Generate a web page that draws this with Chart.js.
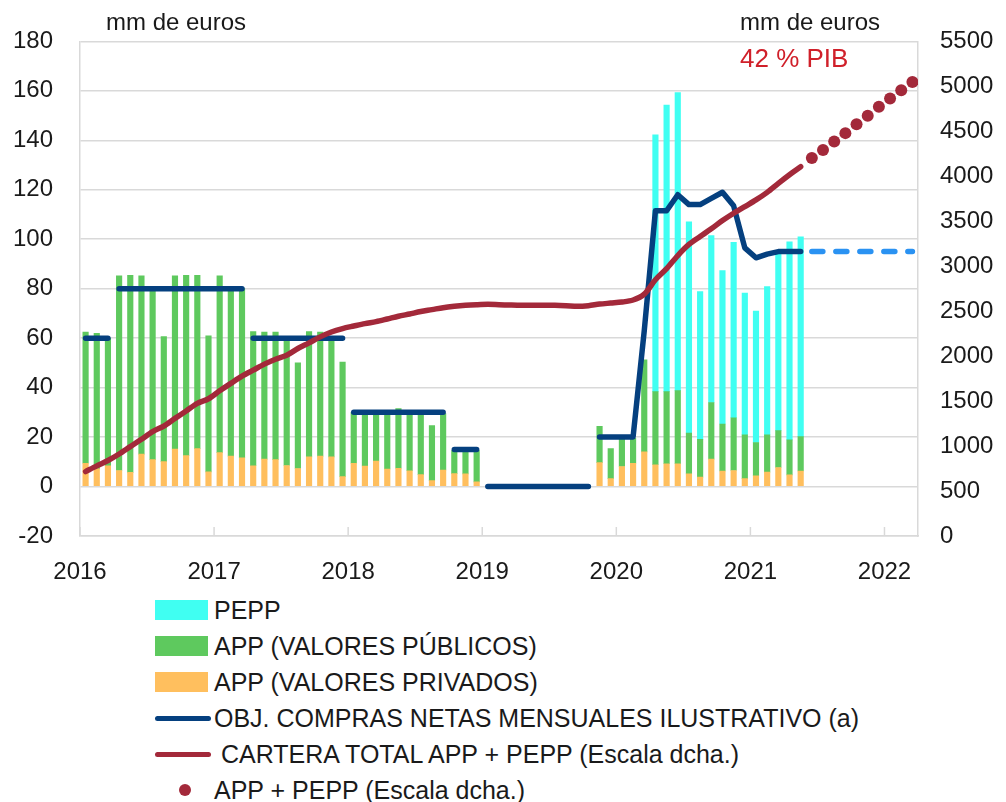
<!DOCTYPE html>
<html lang="es">
<head>
<meta charset="utf-8">
<title>APP + PEPP</title>
<script src="https://cdn.jsdelivr.net/npm/chart.js@4.4.1/dist/chart.umd.min.js"></script>
<style>
  body { margin: 0; background: #fff; font-family: "Liberation Sans", Arial, sans-serif; color: #1a1a1a; }
  #wrap { position: relative; width: 1006px; height: 802px; overflow: hidden; }
  #chartBox { position: absolute; left: 0; top: 0; width: 1006px; height: 590px; }
  .note { position: absolute; font-size: 24px; line-height: 24px; white-space: nowrap; }
  #legend { position: absolute; left: 155px; top: 592px; font-size: 25px; }
  .item { display: flex; align-items: center; height: 36px; white-space: pre; }
  .mark { position: relative; width: 53px; height: 20px; margin-right: 6px; flex: none; }
</style>
</head>
<body>
<div id="wrap">
  <div id="chartBox"><canvas id="grafico"></canvas></div>
  <div class="note" style="left:106px; top:10px;">mm de euros</div>
  <div class="note" style="left:740px; top:10px;">mm de euros</div>
  <div class="note" style="left:740px; top:46px; font-size:26px; color:#d0202a;">42 % PIB</div>
  <div id="legend"></div>
</div>
<script>
// eje temporal: meses desde enero de 2016 hasta marzo de 2022
const anioInicio = 2016;
const anios = ['2016', '2017', '2018', '2019', '2020', '2021', '2022'];

// compras netas mensuales (mm de euros), desde 2016-01 (null = sin compras)
const appPrivados = [
  9.4, 7.2, 8.4, 6.5, 5.7, 13.1, 10.9, 10.1, 15.1, 12.5, 15.3, 5.9,
  13.7, 12.3, 11.6, 8.4, 11.1, 10.9, 8.5, 7.3, 12.0, 12.3, 12.0, 4.0,
  9.4, 8.3, 10.3, 7.1, 7.4, 6.4, 4.8, 2.4, 6.7, 5.2, 5.1, 1.9,
  null, null, null, null, null, null, null, null, null, null, 9.7, 3.2,
  8.1, 9.4, 14.0, 8.8, 9.2, 9.2, 5.1, 3.8, 11.1, 6.3, 6.5, 3.2,
  4.3, 5.8, 7.7, 4.7, 6.3
];
const appPublicos = [
  53.1, 54.8, 51.6, 78.7, 79.7, 72.1, 69.1, 50.5, 70.1, 72.9, 70.1, 55.0,
  71.5, 67.7, 68.4, 54.3, 51.4, 51.6, 51.5, 42.7, 50.7, 50.2, 48.0, 46.3,
  20.6, 21.2, 19.2, 22.4, 24.1, 23.1, 24.2, 22.3, 22.8, 9.3, 8.9, 12.6,
  null, null, null, null, null, null, null, null, null, null, 14.6, 12.2,
  11.0, 10.1, 37.2, 29.6, 29.2, 29.6, 16.5, 15.3, 22.9, 19.0, 21.3, 17.7,
  13.5, 15.1, 14.9, 14.2, 13.9
];
// PEPP desde 2020-04
const pepp = [103.8, 115.9, 120.5, 85.4, 59.7, 67.5, 62.0, 70.9, 57.3, 53.2, 60.0, 72.4, 80.1, 80.8];

// objetivo de compras netas: tramos [desde, hasta, valor]
const objTramos = [
  ['2016-01', '2016-03', 60],
  ['2016-04', '2017-03', 80],
  ['2017-04', '2017-12', 60],
  ['2018-01', '2018-09', 30],
  ['2018-10', '2018-12', 15],
  ['2019-01', '2019-10', 0]
];
// objetivo mensual desde 2019-11
const objMensual = [20, 20, 20, 20, 63, 111.5, 111.5, 118, 114, 114, 116.5, 119, 113.5, 96.5, 92.5, 94, 95, 95, 95];
// proyección del objetivo
const objProyeccion = ['2021-06', '2022-03', 95];

// cartera total APP + PEPP (escala dcha.), desde 2016-01
const cartera = [
  716, 780, 839, 912, 994, 1075, 1160, 1223, 1308, 1390, 1475, 1526,
  1614, 1697, 1777, 1844, 1911, 1966, 2010, 2085, 2148, 2214, 2269, 2307,
  2335, 2362, 2384, 2413, 2443, 2469, 2496, 2517, 2539, 2554, 2565, 2572,
  2576, 2572, 2568, 2565, 2565, 2565, 2565, 2561, 2554, 2561, 2579, 2590,
  2601, 2624, 2690, 2850, 2972, 3119, 3242, 3330, 3416, 3508, 3589, 3663,
  3737, 3821, 3921, 4017, 4107
];
// APP + PEPP proyectado, desde 2021-06
const carteraProy = [4203, 4292, 4387, 4480, 4580, 4672, 4772, 4864, 4957, 5049];

const colPepp = '#40fff2';
const colPublicos = '#5ec95e';
const colPrivados = '#ffbf5e';
const colObj = '#05407f';
const colProy = '#2a92f2';
const colCartera = '#a3293a';
const colGrid = '#d9d9d9';

function mesIndex(s) {
  const [a, m] = s.split('-').map(Number);
  return (a - anioInicio) * 12 + (m - 1);
}
function serie(desde, valores) {
  const i0 = mesIndex(desde);
  return valores.map((v, i) => ({ x: i0 + i + 0.5, y: v }));
}

const objPuntos = [];
objTramos.forEach(([desde, hasta, v]) => {
  objPuntos.push({ x: mesIndex(desde) + 0.5, y: v });
  objPuntos.push({ x: mesIndex(hasta) + 0.5, y: v });
  objPuntos.push({ x: mesIndex(hasta) + 0.8, y: null });
});
objPuntos.push(...serie('2019-11', objMensual));

const proyPuntos = [
  { x: mesIndex(objProyeccion[0]) + 0.5, y: objProyeccion[2] },
  { x: mesIndex(objProyeccion[1]) + 0.5, y: objProyeccion[2] }
];

Chart.defaults.font.family = '"Liberation Sans", Arial, sans-serif';
Chart.defaults.font.size = 24;
Chart.defaults.color = '#1a1a1a';

// pequeñas marcas de año hacia dentro del eje x
const marcasX = {
  id: 'marcasX',
  beforeDatasetsDraw(chart) {
    const { ctx, chartArea, scales } = chart;
    ctx.save();
    ctx.strokeStyle = colGrid;
    ctx.lineWidth = 1.5;
    scales.x.ticks.forEach(t => {
      const px = scales.x.getPixelForValue(t.value);
      ctx.beginPath();
      ctx.moveTo(px, chartArea.bottom);
      ctx.lineTo(px, chartArea.bottom - 9);
      ctx.stroke();
    });
    ctx.restore();
  }
};

const chart = new Chart(document.getElementById('grafico'), {
  type: 'bar',
  data: {
    datasets: [
      { type: 'bar', label: 'PEPP', data: serie('2020-04', pepp), backgroundColor: colPepp,
        stack: 'compras', order: 6, barThickness: 5.5 },
      { type: 'bar', label: 'APP (VALORES PÚBLICOS)', data: serie('2016-01', appPublicos), backgroundColor: colPublicos,
        stack: 'compras', order: 5, barThickness: 5.5 },
      { type: 'bar', label: 'APP (VALORES PRIVADOS)', data: serie('2016-01', appPrivados), backgroundColor: colPrivados,
        stack: 'compras', order: 4, barThickness: 5.5 },
      { type: 'line', label: 'OBJ. COMPRAS NETAS MENSUALES ILUSTRATIVO (a)', data: objPuntos,
        borderColor: colObj, backgroundColor: colObj, borderWidth: 5.5, pointRadius: 0,
        borderCapStyle: 'round', borderJoinStyle: 'round', spanGaps: false, stack: 'obj', order: 2 },
      { type: 'line', label: ' CARTERA TOTAL APP + PEPP (Escala dcha.)', data: serie('2016-01', cartera), yAxisID: 'y1',
        borderColor: colCartera, backgroundColor: colCartera, borderWidth: 5.5, pointRadius: 0,
        borderCapStyle: 'round', tension: 0.3, order: 1 },
      { type: 'line', label: 'APP + PEPP (Escala dcha.)', data: serie('2021-06', carteraProy), yAxisID: 'y1',
        showLine: false, pointRadius: 6, pointBorderWidth: 0, backgroundColor: colCartera, borderColor: colCartera, order: 0 },
      { type: 'line', label: '', data: proyPuntos, borderColor: colProy, borderWidth: 5.5, pointRadius: 0,
        borderDash: [11, 13], borderCapStyle: 'round', stack: 'proy', order: 3 }
    ]
  },
  options: {
    responsive: true,
    maintainAspectRatio: false,
    animation: false,
    layout: { padding: { top: 40, left: 0, right: 0, bottom: 0 } },
    plugins: { legend: { display: false }, tooltip: { enabled: false } },
    scales: {
      x: {
        type: 'linear', min: 0, max: 75, offset: false,
        grid: { drawOnChartArea: false, drawTicks: false },
        border: { display: true, color: colGrid, width: 1.5 },
        ticks: { stepSize: 12, includeBounds: false, padding: 22, maxRotation: 0,
          callback: v => anios[v / 12] },
        afterFit: s => { s.height = 54; }
      },
      y: {
        stacked: true, min: -20, max: 180,
        grid: { color: colGrid, lineWidth: 1.5, drawTicks: false },
        border: { display: true, color: colGrid, width: 1.5 },
        ticks: { stepSize: 20, padding: 27 },
        afterFit: s => { s.width = 80; }
      },
      y1: {
        position: 'right', min: 0, max: 5500,
        grid: { drawOnChartArea: false, drawTicks: false },
        border: { display: true, color: colGrid, width: 1.5 },
        ticks: { stepSize: 500, padding: 22, callback: v => String(v) },
        afterFit: s => { s.width = 88; }
      }
    }
  },
  plugins: [marcasX]
});

// leyenda en HTML, una entrada por fila
function buildLegend(chart) {
  const box = document.getElementById('legend');
  chart.data.datasets.forEach(ds => {
    if (!ds.label) return;
    const row = document.createElement('div');
    row.className = 'item';
    const mark = document.createElement('span');
    mark.className = 'mark';
    if (ds.type === 'bar') {
      mark.style.background = ds.backgroundColor;
    } else if (ds.showLine === false) {
      const dot = document.createElement('span');
      dot.style.cssText = 'position:absolute;left:24px;top:4px;width:12px;height:12px;border-radius:50%;background:' + ds.backgroundColor;
      mark.appendChild(dot);
    } else {
      const ln = document.createElement('span');
      ln.style.cssText = 'position:absolute;left:0;top:7.5px;width:56px;height:5.5px;border-radius:3px;background:' + ds.borderColor;
      mark.appendChild(ln);
    }
    row.appendChild(mark);
    const txt = document.createElement('span');
    txt.textContent = ds.label;
    row.appendChild(txt);
    box.appendChild(row);
  });
}
buildLegend(chart);
</script>
</body>
</html>
